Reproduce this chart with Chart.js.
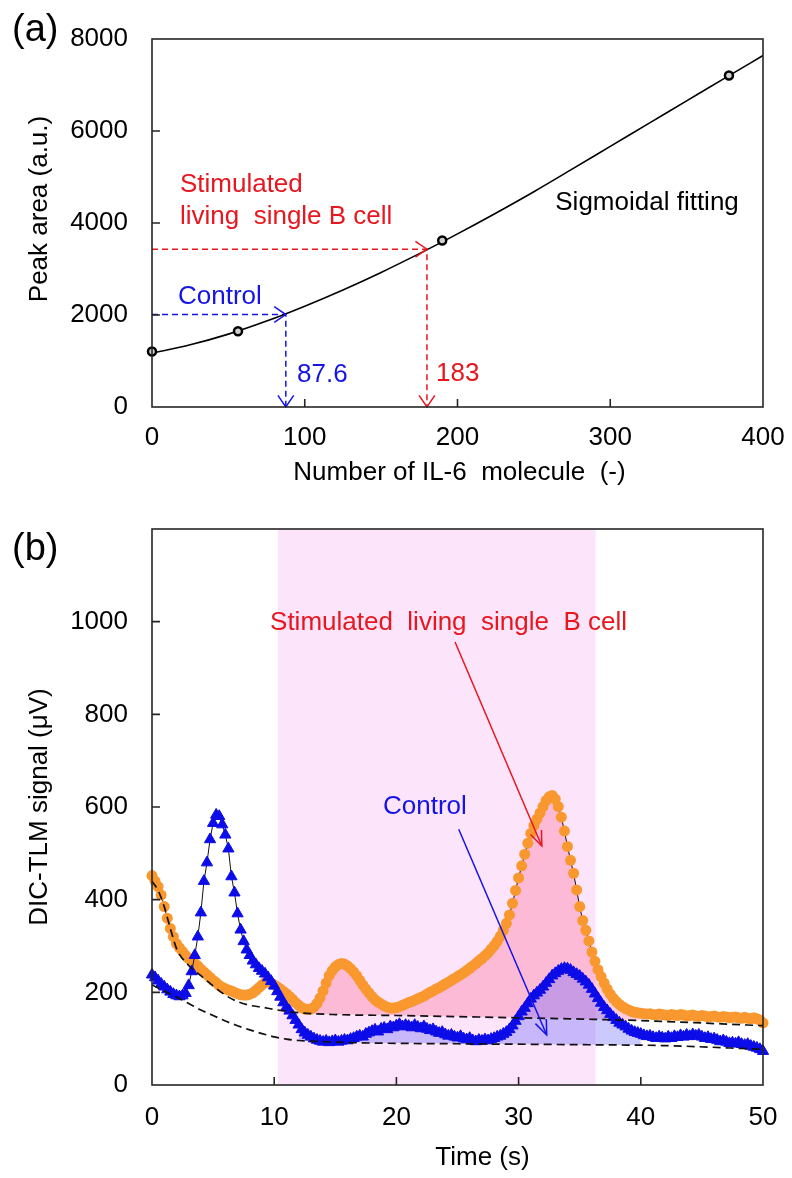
<!DOCTYPE html>
<html>
<head>
<meta charset="utf-8">
<script src="https://cdn.jsdelivr.net/npm/chart.js@4.4.1/dist/chart.umd.min.js"></script>
<style>
  body { margin: 0; background: #fff; }
  canvas { display: block; }
</style>
</head>
<body>
<canvas id="chartA" width="792" height="490"></canvas>
<canvas id="chartB" width="792" height="688"></canvas>
<script>
// ---- (a) calibration ----
var moleculeTicks = [0, 100, 200, 300, 400];
var areaTicks = [0, 2000, 4000, 6000, 8000];
var calibX = [0, 56.3, 190, 377.7];
var calibY = [1208, 1646, 3618, 7206];
var fitX = [0, 25, 50, 75, 100, 125, 150, 175, 200, 225, 250, 275, 300, 325, 350, 375, 400];
var fitY = [1171, 1352, 1584, 1868, 2192, 2545, 2926, 3334, 3764, 4213, 4680, 5170, 5665, 6160, 6655, 7150, 7640];
var controlPoint = [87.6, 2010];
var stimPoint = [180, 3430];

// ---- (b) DIC-TLM signal, sampled every 0.25 s ----
var timeTicks = [0, 10, 20, 30, 40, 50];
var signalTicks = [0, 200, 400, 600, 800, 1000];
var timeStep = 0.25;
var stimSignal = [
  452, 440, 428, 410, 385, 360, 338, 320, 305, 296, 288, 280, 273, 268, 263, 257,
  250, 244, 238, 232, 226, 221, 215, 211, 208, 205, 203, 200, 197, 195, 194, 194,
  196, 199, 204, 210, 216, 221, 223, 220, 216, 212, 207, 202, 197, 191, 185, 178,
  172, 167, 164, 163, 164, 168, 176, 188, 203, 220, 236, 247, 255, 260, 262, 261,
  257, 251, 244, 236, 226, 216, 207, 199, 191, 184, 179, 175, 171, 168, 166, 166,
  167, 169, 172, 175, 178, 180, 183, 186, 189, 192, 196, 200, 203, 207, 210, 214,
  218, 222, 226, 230, 234, 238, 242, 247, 252, 257, 262, 268, 273, 279, 285, 293,
  301, 310, 321, 334, 349, 367, 392, 420, 447, 473, 498, 522, 543, 560, 574, 587,
  601, 614, 622, 625, 617, 601, 578, 548, 515, 485, 457, 421, 385, 355, 334, 311,
  287, 267, 249, 234, 220, 207, 196, 187, 180, 174, 169, 165, 162, 159, 157, 156,
  155, 154, 153, 154, 152, 151, 153, 152, 151, 150, 152, 151, 150, 152, 151, 149,
  150, 151, 149, 148, 150, 149, 147, 148, 149, 147, 146, 148, 147, 145, 146, 147,
  145, 144, 146, 144, 143, 145, 143, 140, 134
];
var controlSignal = [
  238, 232, 225, 218, 212, 206, 201, 196, 193, 191, 193, 198, 215, 245, 280, 320,
  372, 440, 480, 530, 565, 583, 580, 562, 540, 510, 450, 415, 370, 335, 310, 292,
  280, 268, 260, 252, 246, 240, 232, 224, 214, 202, 190, 178, 168, 160, 150, 140,
  130, 120, 113, 108, 104, 100, 97, 95, 93, 95, 92, 94, 96, 93, 95, 97,
  96, 99, 101, 104, 106, 104, 110, 113, 116, 119, 115, 121, 123, 120, 126, 124,
  128, 131, 126, 129, 127, 124, 129, 125, 122, 126, 121, 118, 120, 115, 112, 114,
  109, 106, 108, 104, 102, 105, 100, 98, 101, 96, 94, 97, 95, 98, 96, 99,
  101, 104, 106, 110, 114, 120, 128, 138, 148, 158, 166, 176, 186, 193, 199, 205,
  212, 220, 228, 236, 241, 246, 250, 252, 251, 248, 243, 239, 235, 229, 223, 216,
  207, 197, 187, 177, 168, 161, 153, 146, 140, 134, 130, 126, 121, 117, 114, 112,
  110, 107, 105, 106, 103, 101, 104, 102, 100, 104, 101, 105, 103, 107, 104, 108,
  105, 109, 106, 108, 104, 101, 103, 99, 100, 97, 94, 96, 93, 90, 91, 89,
  92, 88, 86, 88, 84, 82, 80, 77, 73
];
var stimBaseX = [0, 0.5, 1, 1.5, 2, 3, 4, 5, 6, 7, 8, 9, 10, 12, 15, 20, 30, 40, 50];
var stimBaseY = [440, 420, 385, 338, 295, 258, 236, 214, 194, 180, 172, 168, 163, 156, 152, 150, 145, 139, 128];
var controlBaseX = [0, 1, 2, 3, 4, 5, 6, 7, 8, 9, 10, 11, 12, 13.5, 17, 25, 35, 42, 50];
var controlBaseY = [216, 203, 190, 176, 162, 150, 138, 128, 119, 111, 104, 99, 96, 94, 91, 89, 87, 85, 77];
var stimWindow = [10.3, 36.3];
var areaRange = [12, 40];

var FONT = '"Liberation Sans", Arial, Helvetica, sans-serif';
var RED = '#E8161E';
var BLUE = '#1414E6';

function xy(xs, ys) {
  return xs.map(function (x, i) { return { x: x, y: ys[i] }; });
}
function series(values) {
  return values.map(function (v, i) { return { x: i * timeStep, y: v }; });
}
function inRange(points) {
  return points.filter(function (p) { return p.x >= areaRange[0] && p.x <= areaRange[1]; });
}

function head(ctx, x0, y0, x1, y1, len, ang) {
  var a = Math.atan2(y1 - y0, x1 - x0);
  ctx.beginPath();
  ctx.moveTo(x1 - len * Math.cos(a - ang), y1 - len * Math.sin(a - ang));
  ctx.lineTo(x1, y1);
  ctx.lineTo(x1 - len * Math.cos(a + ang), y1 - len * Math.sin(a + ang));
  ctx.stroke();
}

var framePlugin = {
  id: 'frame',
  beforeDatasetsDraw: function (chart, args, o) {
    if (!o.band) return;
    var ctx = chart.ctx, a = chart.chartArea, xs = chart.scales.x;
    var x0 = xs.getPixelForValue(o.band[0]), x1 = xs.getPixelForValue(o.band[1]);
    ctx.save();
    ctx.fillStyle = o.bandColor;
    ctx.fillRect(x0, a.top, x1 - x0, a.bottom - a.top);
    ctx.restore();
  },
  afterDatasetsDraw: function (chart, args, o) {
    var ctx = chart.ctx, a = chart.chartArea, xs = chart.scales.x, ys = chart.scales.y;
    ctx.save();
    ctx.setLineDash([]);
    ctx.lineWidth = 1.5;

    // arrow heads on dashed guides
    (o.heads || []).forEach(function (h) {
      ctx.strokeStyle = h[4];
      head(ctx, xs.getPixelForValue(h[0]), ys.getPixelForValue(h[1]),
        xs.getPixelForValue(h[2]), ys.getPixelForValue(h[3]), 14, 0.6);
    });
    // pointer arrows
    (o.arrows || []).forEach(function (r) {
      var x0 = xs.getPixelForValue(r[0]), y0 = ys.getPixelForValue(r[1]);
      var x1 = xs.getPixelForValue(r[2]), y1 = ys.getPixelForValue(r[3]);
      ctx.strokeStyle = r[4];
      ctx.beginPath(); ctx.moveTo(x0, y0); ctx.lineTo(x1, y1); ctx.stroke();
      head(ctx, x0, y0, x1, y1, 16, 0.38);
    });

    // notes
    ctx.font = '26px ' + FONT;
    ctx.textAlign = 'left';
    ctx.textBaseline = 'middle';
    (o.notes || []).forEach(function (n) {
      ctx.fillStyle = n[3];
      ctx.fillText(n[0], xs.getPixelForValue(n[1]), ys.getPixelForValue(n[2]));
    });

    // frame and inward ticks
    ctx.strokeStyle = '#262626';
    ctx.lineWidth = 1.6;
    ctx.beginPath();
    xs.ticks.forEach(function (t) {
      if (t.value <= xs.min || t.value >= xs.max) return;
      var p = xs.getPixelForValue(t.value);
      ctx.moveTo(p, a.bottom); ctx.lineTo(p, a.bottom - 8);
    });
    ys.ticks.forEach(function (t) {
      if (t.value <= ys.min || t.value >= ys.max) return;
      var p = ys.getPixelForValue(t.value);
      ctx.moveTo(a.left, p); ctx.lineTo(a.left + 8, p);
    });
    ctx.stroke();
    ctx.strokeRect(a.left, a.top, a.right - a.left, a.bottom - a.top);

    // axis titles
    ctx.fillStyle = '#000';
    ctx.textAlign = 'center';
    ctx.fillText(o.xTitle, (a.left + a.right) / 2 + o.xTitleDx, a.bottom + o.xTitleDy);
    ctx.save();
    ctx.translate(o.yTitleX, (a.top + a.bottom) / 2 + o.yTitleDy);
    ctx.rotate(-Math.PI / 2);
    ctx.fillText(o.yTitle, 0, 0);
    ctx.restore();

    // panel label
    ctx.font = '38px ' + FONT;
    ctx.textAlign = 'left';
    ctx.fillText(o.panel, 12, o.panelY);
    ctx.restore();
  }
};

// label gap is given as an invisible tick length so it does not widen the layout padding
function axis(min, max, values, gap, fit, isX) {
  return {
    type: 'linear', min: min, max: max,
    afterBuildTicks: function (s) { s.ticks = values.map(function (v) { return { value: v }; }); },
    afterFit: function (s) { if (isX) s.height = fit; else s.width = fit; },
    ticks: {
      padding: 0, color: '#000', maxRotation: 0, autoSkip: false,
      font: { family: FONT, size: 26 },
      callback: function (v) { return String(v); }
    },
    grid: { display: false, drawTicks: true, tickLength: gap },
    border: { display: false }
  };
}

var baseOptions = function (xAxis, yAxis, frame) {
  return {
    responsive: false,
    animation: false,
    events: [],
    layout: { padding: { left: 0, right: 29, top: 39, bottom: 0 } },
    scales: { x: xAxis, y: yAxis },
    plugins: { legend: { display: false }, tooltip: { enabled: false }, frame: frame }
  };
};

// ---- chart (a) ----
new Chart(document.getElementById('chartA'), {
  type: 'scatter',
  data: {
    datasets: [
      {
        label: 'Standard', data: xy(calibX, calibY),
        pointRadius: 4, pointBorderWidth: 2.5, pointBackgroundColor: '#d0d0d0', pointBorderColor: '#000',
        fill: false, order: 0, clip: 8
      },
      {
        label: 'Sigmoidal fitting', data: xy(fitX, fitY), showLine: true,
        borderColor: '#000', borderWidth: 1.6, pointRadius: 0, cubicInterpolationMode: 'monotone',
        fill: false, order: 1
      },
      {
        label: 'Control', data: xy([0, controlPoint[0], controlPoint[0]], [controlPoint[1], controlPoint[1], 0]),
        showLine: true, borderColor: BLUE, borderWidth: 1.5, borderDash: [6, 4], pointRadius: 0,
        fill: false, order: 2, clip: 4
      },
      {
        label: 'Stimulated', data: xy([0, stimPoint[0], stimPoint[0]], [stimPoint[1], stimPoint[1], 0]),
        showLine: true, borderColor: RED, borderWidth: 1.5, borderDash: [6, 4], pointRadius: 0,
        fill: false, order: 2, clip: 4
      }
    ]
  },
  options: baseOptions(
    axis(0, 400, moleculeTicks, 15, 83, true),
    axis(0, 8000, areaTicks, 24, 152, false),
    {
      heads: [
        [0, controlPoint[1], controlPoint[0], controlPoint[1], BLUE],
        [controlPoint[0], controlPoint[1], controlPoint[0], 0, BLUE],
        [0, stimPoint[1], stimPoint[0], stimPoint[1], RED],
        [stimPoint[0], stimPoint[1], stimPoint[0], 0, RED]
      ],
      notes: [
        ['Stimulated', 18.3, 4826, RED],
        ['living  single B cell', 18.3, 4130, RED],
        ['Control', 17, 2391, BLUE],
        ['87.6', 95, 696, BLUE],
        ['183', 186, 717, RED],
        ['Sigmoidal fitting', 264, 4435, '#000']
      ],
      xTitle: 'Number of IL-6  molecule  (-)', xTitleDx: 2, xTitleDy: 66,
      yTitle: 'Peak area (a.u.)', yTitleX: 40, yTitleDy: -14,
      panel: '(a)', panelY: 31
    }
  ),
  plugins: [framePlugin]
});

// ---- chart (b) ----
var stimPoints = series(stimSignal);
var controlPoints = series(controlSignal);

new Chart(document.getElementById('chartB'), {
  type: 'scatter',
  data: {
    datasets: [
      {
        label: 'Stimulated baseline', data: xy(stimBaseX, stimBaseY), showLine: true,
        borderColor: '#111', borderWidth: 1.7, borderDash: [8, 5], pointRadius: 0,
        cubicInterpolationMode: 'monotone', fill: false, order: 0
      },
      {
        label: 'Control baseline', data: xy(controlBaseX, controlBaseY), showLine: true,
        borderColor: '#111', borderWidth: 1.7, borderDash: [8, 5], pointRadius: 0,
        cubicInterpolationMode: 'monotone', fill: false, order: 0
      },
      {
        label: 'Control', data: controlPoints, showLine: true,
        borderColor: '#111', borderWidth: 1, pointStyle: 'triangle', pointRadius: 6.5,
        pointBackgroundColor: '#0c0ce8', pointBorderColor: '#0c0ce8', pointBorderWidth: 1,
        fill: false, order: 1, clip: 8
      },
      {
        label: 'Stimulated living single B cell', data: stimPoints, showLine: true,
        borderColor: '#111', borderWidth: 1, pointRadius: 5.5,
        pointBackgroundColor: '#F9982F', pointBorderColor: '#F9982F', pointBorderWidth: 0,
        fill: false, order: 2, clip: 8
      },
      {
        label: 'Control area', data: inRange(controlPoints), showLine: true,
        borderWidth: 0, borderColor: 'transparent', pointRadius: 0,
        fill: { target: 1, above: 'rgba(90, 90, 255, 0.32)', below: 'transparent' }, order: 3
      },
      {
        label: 'Stimulated area', data: inRange(stimPoints), showLine: true,
        borderWidth: 0, borderColor: 'transparent', pointRadius: 0,
        fill: { target: 0, above: 'rgba(255, 110, 150, 0.35)', below: 'transparent' }, order: 4
      }
    ]
  },
  options: baseOptions(
    axis(0, 50, timeTicks, 17, 93, true),
    axis(0, 1200, signalTicks, 24, 152, false),
    {
      band: stimWindow, bandColor: '#FCE4FA',
      arrows: [
        [24.8, 956, 31.9, 516, RED],
        [25.1, 552, 32.3, 108, BLUE]
      ],
      notes: [
        ['Stimulated  living  single  B cell', 9.66, 997, RED],
        ['Control', 18.9, 600, BLUE]
      ],
      xTitle: 'Time (s)', xTitleDx: 25, xTitleDy: 73,
      yTitle: 'DIC-TLM signal (\u03bcV)', yTitleX: 40, yTitleDy: 0,
      panel: '(b)', panelY: 60
    }
  ),
  plugins: [framePlugin]
});
</script>
</body>
</html>
